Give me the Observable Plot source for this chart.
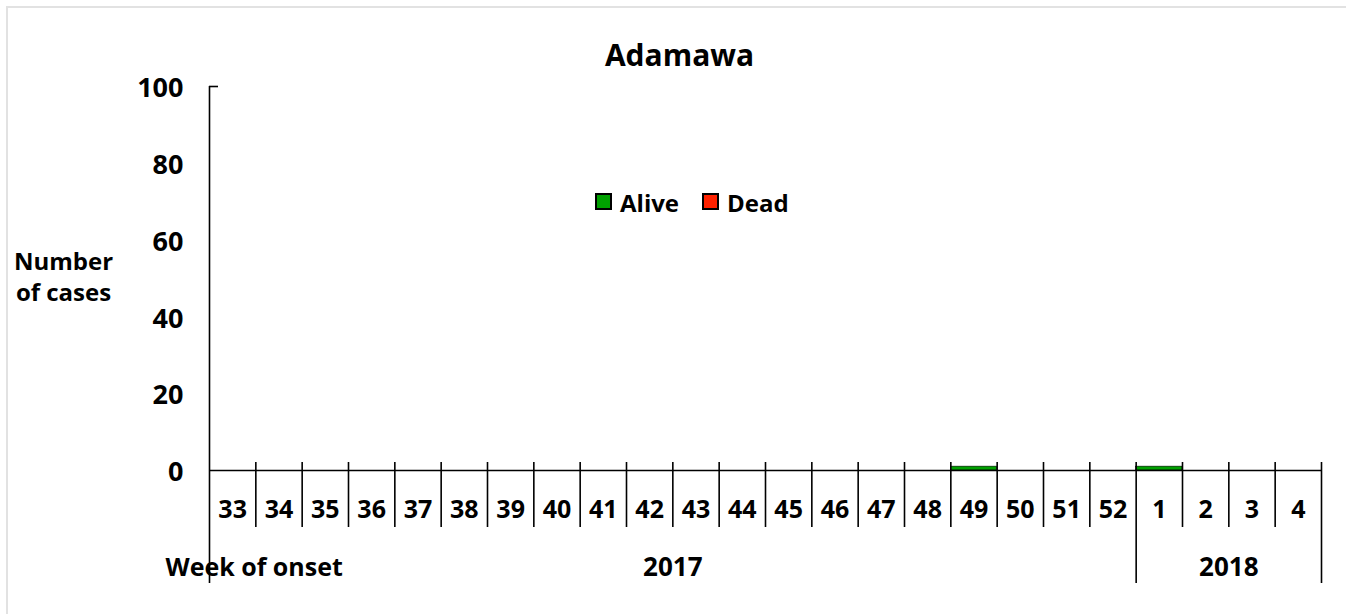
<!DOCTYPE html>
<html>
<head>
<meta charset="utf-8">
<script src="https://cdn.jsdelivr.net/npm/d3@7"></script>
<script src="https://cdn.jsdelivr.net/npm/@observablehq/plot@0.6"></script>
<style>
  html, body { margin: 0; padding: 0; background: #fff; }
  #wrap { position: relative; width: 1346px; height: 614px; overflow: hidden; font-family: "Open Sans", Lato, sans-serif; font-weight: bold; }
  #border { position: absolute; left: 6px; top: 6px; width: 1400px; height: 700px; border: 2px solid #e2e2e2; pointer-events: none; }
  #legend { position: absolute; left: 595px; top: 186px; height: 32px; display: flex; align-items: center; font-size: 24px; color: #000; }
  #legend .sw { width: 13px; height: 13px; border: 2px solid #000; margin-right: 8px; margin-top: -2px; }
  #legend .item { display: flex; align-items: center; margin-right: 23px; }
</style>
</head>
<body>
<div id="wrap">
  <div id="chart"></div>
  <div id="border"></div>
  <div id="legend"></div>
</div>
<script>
// ---- data ----
const title = "Adamawa";
const weeks = [33,34,35,36,37,38,39,40,41,42,43,44,45,46,47,48,49,50,51,52,1,2,3,4];
const years = [2017,2017,2017,2017,2017,2017,2017,2017,2017,2017,2017,2017,2017,2017,2017,2017,2017,2017,2017,2017,2018,2018,2018,2018];
const alive = [0,0,0,0,0,0,0,0,0,0,0,0,0,0,0,0,1,0,0,0,1,0,0,0];
const dead  = [0,0,0,0,0,0,0,0,0,0,0,0,0,0,0,0,0,0,0,0,0,0,0,0];
const series = ["Alive", "Dead"];
const colors = ["#00a000", "#ff2200"];
const yTicks = [0, 20, 40, 60, 80, 100];
const yLabel = "Number\nof cases";
const xLabel = "Week of onset";

// ---- derived tables ----
const rows = [];
weeks.forEach((w, i) => {
  rows.push({i, week: w, status: "Alive", value: alive[i]});
  rows.push({i, week: w, status: "Dead", value: dead[i]});
});
const weekIdx = weeks.map((w, i) => ({i, week: w}));
const yearGroups = [];
years.forEach((y, i) => {
  const last = yearGroups[yearGroups.length - 1];
  if (last && last.year === y) last.end = i + 1;
  else yearGroups.push({year: y, start: i, end: i + 1});
});
const yearBounds = yearGroups.map(g => g.end);
const innerBounds = d3.range(1, weeks.length).filter(b => !yearBounds.includes(b));

const W = 1346, H = 614;
const mL = 209, mR = 25, mT = 86, mB = 144;
const FONT = "'Open Sans', Lato, sans-serif";

const chart = Plot.plot({
  width: W, height: H,
  marginLeft: mL, marginRight: mR, marginTop: mT, marginBottom: mB,
  style: {fontFamily: FONT, fontWeight: "bold", color: "#000", background: "transparent", overflow: "visible"},
  x: {type: "linear", domain: [0, weeks.length], axis: null},
  y: {domain: [0, 100], axis: null},
  color: {domain: series, range: colors},
  marks: [
    Plot.rectY(rows, Plot.stackY({x1: "i", x2: d => d.i + 1, y: "value", fill: "status", stroke: "#000", strokeWidth: 0.6})),
    // y axis labels
    Plot.axisY({ticks: yTicks, tickSize: 0, tickPadding: 26, fontSize: 27, fontWeight: "bold", label: null, dy: 2}),
    // y axis line extending below
    Plot.ruleX([0], {stroke: "#000", strokeWidth: 1.6, insetBottom: -113}),
    // top tick
    Plot.ruleY([100], {stroke: "#000", strokeWidth: 1.6, insetRight: (W - mL - mR) - 9}),
    // x axis line
    Plot.ruleY([0], {stroke: "#000", strokeWidth: 1.6}),
    // category separators
    Plot.ruleX(innerBounds, {stroke: "#000", strokeWidth: 1.6, insetTop: (H - mB - mT) - 8, insetBottom: -57}),
    // year separators
    Plot.ruleX(yearBounds, {stroke: "#000", strokeWidth: 1.6, insetTop: (H - mB - mT) - 8, insetBottom: -113}),
    // week labels
    Plot.text(weekIdx, {x: d => d.i + 0.5, text: d => String(d.week), frameAnchor: "bottom", lineAnchor: "middle", dy: 39, fontSize: 25, fontWeight: "bold", fill: "#000"}),
    // year labels
    Plot.text(yearGroups, {x: d => (d.start + d.end) / 2, text: d => String(d.year), frameAnchor: "bottom", lineAnchor: "middle", dy: 97, fontSize: 26, fontWeight: "bold", fill: "#000"}),
    // x label
    Plot.text([xLabel], {frameAnchor: "bottom-left", lineAnchor: "middle", textAnchor: "start", dx: -44, dy: 97, fontSize: 25, fontWeight: "bold", fill: "#000"}),
    // y label
    Plot.text([yLabel], {frameAnchor: "top-left", lineAnchor: "middle", textAnchor: "middle", dx: -146, dy: 189, fontSize: 24, lineHeight: 1.3, fontWeight: "bold", fill: "#000"}),
    // title
    Plot.text([title], {frameAnchor: "top", lineAnchor: "middle", dx: -86, dy: -30, fontSize: 30, fontWeight: "bold", fill: "#000"})
  ]
});
document.getElementById("chart").appendChild(chart);

// legend
const legend = document.getElementById("legend");
series.forEach((s, k) => {
  const item = document.createElement("div");
  item.className = "item";
  const sw = document.createElement("div");
  sw.className = "sw";
  sw.style.background = colors[k];
  const lab = document.createElement("span");
  lab.textContent = s;
  item.appendChild(sw); item.appendChild(lab);
  legend.appendChild(item);
});
</script>
</body>
</html>
